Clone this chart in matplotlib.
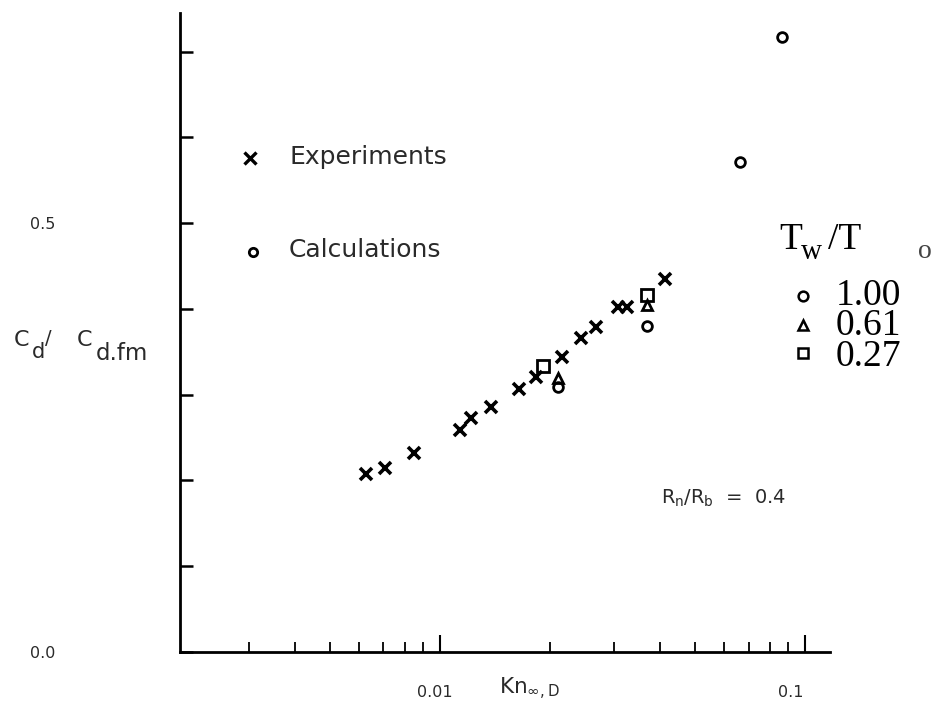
#!/usr/bin/env python

import matplotlib
matplotlib.use('Agg')
import matplotlib.pyplot as plt
import matplotlib.transforms as mtransforms
from matplotlib.ticker import FixedLocator, NullFormatter

# ------------------------------------------------------------------
# datos
exp_kn = [0.00626, 0.00706, 0.00849, 0.01135, 0.01216, 0.0138, 0.01645,
          0.01832, 0.0216, 0.0243, 0.0267, 0.0307, 0.0325, 0.0413]
exp_cd = [0.2075, 0.2145, 0.232, 0.259, 0.273, 0.2855, 0.3065,
          0.3205, 0.344, 0.366, 0.379, 0.402, 0.402, 0.435]

# calculos, por relacion de temperaturas Tw/To
calc_100_kn = [0.02105, 0.0369, 0.0664, 0.0865]
calc_100_cd = [0.309, 0.380, 0.571, 0.717]
calc_061_kn = [0.02105, 0.0369]
calc_061_cd = [0.319, 0.404]
calc_027_kn = [0.01914, 0.0369]
calc_027_cd = [0.333, 0.416]

tw_labels = ['1.00', '0.61', '0.27']
y_ticks = [0.0, 0.1, 0.2, 0.3, 0.4, 0.5, 0.6, 0.7]
y_ticklabels = ['0.0', '', '', '', '', '0.5', '', '']
x_ticks = [0.01, 0.1]
x_ticklabels = ['0.01', '0.1']
x_minor = [0.003, 0.004, 0.005, 0.006, 0.007, 0.008, 0.009,
           0.02, 0.03, 0.04, 0.05, 0.06, 0.07, 0.08, 0.09]

W, H = 946, 726
SANS = ['DejaVu Sans']
SERIF = ['Liberation Serif', 'DejaVu Serif']
GREY = '#2a2a2a'
plt.rcParams['mathtext.default'] = 'regular'


def fx(px):
    return px / W


def fy(py):
    return 1 - py / H


def ftext(px, py, s, **kw):
    """ Texto en coordenadas de pixel de la figura """
    kw.setdefault('va', 'center')
    kw.setdefault('ha', 'left')
    kw.setdefault('color', GREY)
    return fig.text(fx(px), fy(py), s, **kw)


# ==================================================================
fig = plt.figure(figsize=(W / 100, H / 100), dpi=100)
ax = fig.add_axes([fx(180), fy(652), fx(830) - fx(180), fy(13) - fy(652)])
ax.set_xscale('log')
ax.set_xlim(0.00194, 0.117)
ax.set_ylim(0.0, 0.745)

for s in ('top', 'right'):
    ax.spines[s].set_visible(False)
for s in ('left', 'bottom'):
    ax.spines[s].set_linewidth(2.0)

ax.yaxis.set_major_locator(FixedLocator(y_ticks))
ax.set_yticklabels(y_ticklabels, family=SANS, fontsize=11.5, color=GREY)
ax.tick_params(axis='y', direction='in', length=9, width=1.8, pad=90)
ax.tick_params(axis='x', which='major', direction='in', length=12, width=1.5,
               pad=24, labelsize=11.5, labelcolor=GREY)
ax.tick_params(axis='x', which='minor', direction='in', length=7, width=1.3)
ax.set_xticks(x_ticks)
ax.set_xticklabels(x_ticklabels, family=SANS)
ax.xaxis.set_minor_locator(FixedLocator(x_minor))
ax.xaxis.set_minor_formatter(NullFormatter())
# las etiquetas del original quedan algo a la izquierda de la marca
for lab, dx in zip(ax.get_xticklabels(), [-5, -14]):
    lab.set_transform(lab.get_transform() +
                      mtransforms.ScaledTranslation(dx / 100, 0,
                                                    fig.dpi_scale_trans))

# experimentos
ax.plot(exp_kn, exp_cd, ls='none', marker='x', ms=9, mew=2.6, color='black',
        clip_on=False)
# calculos
ax.plot(calc_100_kn, calc_100_cd, ls='none', marker='o', ms=7, mew=2.0,
        mfc='none', mec='black', clip_on=False)
ax.plot(calc_061_kn, calc_061_cd, ls='none', marker='^', ms=7, mew=2.0,
        mfc='none', mec='black', clip_on=False)
ax.plot(calc_027_kn, calc_027_cd, ls='none', marker='s', ms=8, mew=2.0,
        mfc='none', mec='black', clip_on=False)

# leyenda de simbolos (arriba a la izquierda)
fig.lines.append(plt.Line2D([fx(250)], [fy(158)], transform=fig.transFigure,
                            marker='x', ms=8, mew=2.4, color='black', ls='none'))
fig.lines.append(plt.Line2D([fx(253)], [fy(252)], transform=fig.transFigure,
                            marker='o', ms=6, mew=2.0, mfc='none', mec='black',
                            ls='none'))
ftext(289, 157, 'Experiments', family=SANS, fontsize=18)
ftext(289, 250, 'Calculations', family=SANS, fontsize=18)

# leyenda Tw/To
ftext(779, 240, 'T', family=SERIF, fontsize=27, color='black')
ftext(801, 252, 'w', family=SERIF, fontsize=21, color='black')
ftext(828, 240, '/T', family=SERIF, fontsize=27, color='black')
ftext(918, 251, 'o', family=SERIF, fontsize=20, color='#444444')
tw_markers = ['o', '^', 's']
tw_rows = [296, 325, 353]
for m, py in zip(tw_markers, tw_rows):
    fig.lines.append(plt.Line2D([fx(803)], [fy(py)], transform=fig.transFigure,
                                marker=m, ms=7, mew=1.8, mfc='none',
                                mec='black', ls='none'))
ftext(836, tw_rows[1] + 1, '\n'.join(tw_labels), family=SERIF, fontsize=27,
      color='black', linespacing=0.84)

ftext(661, 498, r'R$_n$/R$_b$  =  0.4', family=SANS, fontsize=14)

# etiquetas de ejes
ftext(14, 340, 'C', family=SANS, fontsize=16)
ftext(32, 352, 'd', family=SANS, fontsize=15)
ftext(45, 339, '/', family=SANS, fontsize=14)
ftext(77, 340, 'C', family=SANS, fontsize=16)
ftext(96, 353, 'd.fm', family=SANS, fontsize=16.5)
ftext(499, 689, r'Kn$_{\infty,D}$', family=SANS, fontsize=15.5)

fig.savefig('out.png', dpi=100, facecolor='white')
